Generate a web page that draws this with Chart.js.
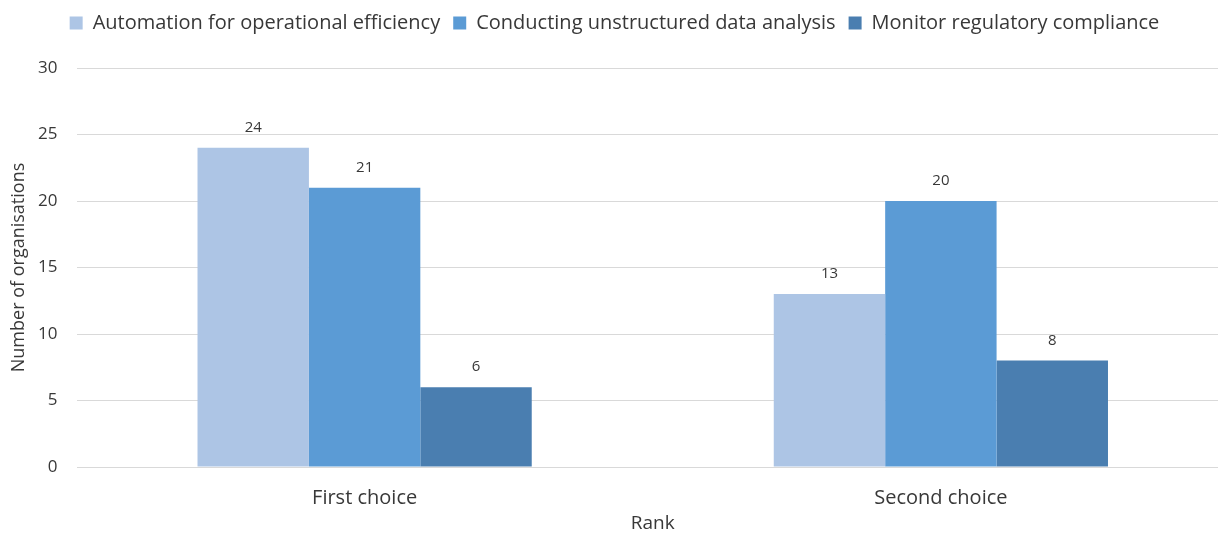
<!DOCTYPE html>
<html>
<head>
<meta charset="utf-8">
<script src="https://cdn.jsdelivr.net/npm/chart.js@4/dist/chart.umd.min.js"></script>
<style>
  html, body { margin: 0; padding: 0; background: #ffffff; overflow: hidden; }
  #wrap { position: relative; width: 1232px; height: 540px; }
</style>
</head>
<body>
<div id="wrap"><canvas id="chart"></canvas></div>
<script>
// Survey answers: number of organisations naming each use case, by rank
const categories = ['First choice', 'Second choice'];
const seriesNames = [
  'Automation for operational efficiency',
  'Conducting unstructured data analysis',
  'Monitor regulatory compliance'
];
const automation = [24, 13];
const unstructured = [21, 20];
const compliance = [6, 8];
const yTicks = [0, 5, 10, 15, 20, 25, 30];

const colors = ['#adc5e5', '#5b9bd5', '#4a7eb0'];
const FONT = '"Open Sans", Lato, sans-serif';
const TEXT = '#383838';

// Value labels above each bar
const valueLabels = {
  id: 'valueLabels',
  afterDatasetsDraw(chart) {
    const ctx = chart.ctx;
    ctx.save();
    ctx.font = '15px ' + FONT;
    ctx.fillStyle = TEXT;
    ctx.textAlign = 'center';
    ctx.textBaseline = 'middle';
    chart.data.datasets.forEach((ds, i) => {
      chart.getDatasetMeta(i).data.forEach((bar, j) => {
        ctx.fillText(String(ds.data[j]), bar.x, bar.y - 20);
      });
    });
    ctx.restore();
  }
};

// Reserve a fixed band for the legend above the plot
const legendBand = {
  id: 'legendBand',
  beforeInit(chart) {
    const legend = chart.legend;
    if (!legend) return;
    const fit = legend.fit;
    legend.fit = function () {
      fit.call(this);
      this.height = 68;
    };
  }
};

new Chart(document.getElementById('chart'), {
  type: 'bar',
  data: {
    labels: categories,
    datasets: [
      { label: seriesNames[0], data: automation, backgroundColor: colors[0] },
      { label: seriesNames[1], data: unstructured, backgroundColor: colors[1] },
      { label: seriesNames[2], data: compliance, backgroundColor: colors[2] }
    ]
  },
  options: {
    responsive: true,
    maintainAspectRatio: false,
    animation: false,
    layout: { padding: { left: 0, right: 3, top: 0, bottom: 0 } },
    datasets: { bar: { categoryPercentage: 0.58, barPercentage: 1.0 } },
    plugins: {
      legend: {
        position: 'top',
        align: 'center',
        labels: {
          boxWidth: 13,
          boxHeight: 13,
          padding: 13,
          color: TEXT,
          font: { family: FONT, size: 20 }
        }
      },
      tooltip: { enabled: false }
    },
    scales: {
      x: {
        grid: { display: false, drawTicks: false },
        border: { display: false },
        ticks: { color: TEXT, font: { family: FONT, size: 20 }, padding: 19 },
        title: {
          display: true,
          text: 'Rank',
          color: TEXT,
          font: { family: FONT, size: 19 },
          padding: { top: 0, bottom: 5 }
        },
        afterFit(scale) { scale.height = 73; }
      },
      y: {
        min: 0,
        max: 30,
        afterBuildTicks(scale) { scale.ticks = yTicks.map(v => ({ value: v })); },
        grid: { color: '#d9d9d9', lineWidth: 1, drawTicks: false },
        border: { display: false },
        ticks: { color: TEXT, font: { family: FONT, size: 17 }, padding: 19 },
        title: {
          display: true,
          text: 'Number of organisations',
          color: TEXT,
          font: { family: FONT, size: 18 },
          padding: { top: 8, bottom: 0 }
        },
        afterFit(scale) { scale.width = 76.5; }
      }
    }
  },
  plugins: [legendBand, valueLabels]
});
</script>
</body>
</html>
